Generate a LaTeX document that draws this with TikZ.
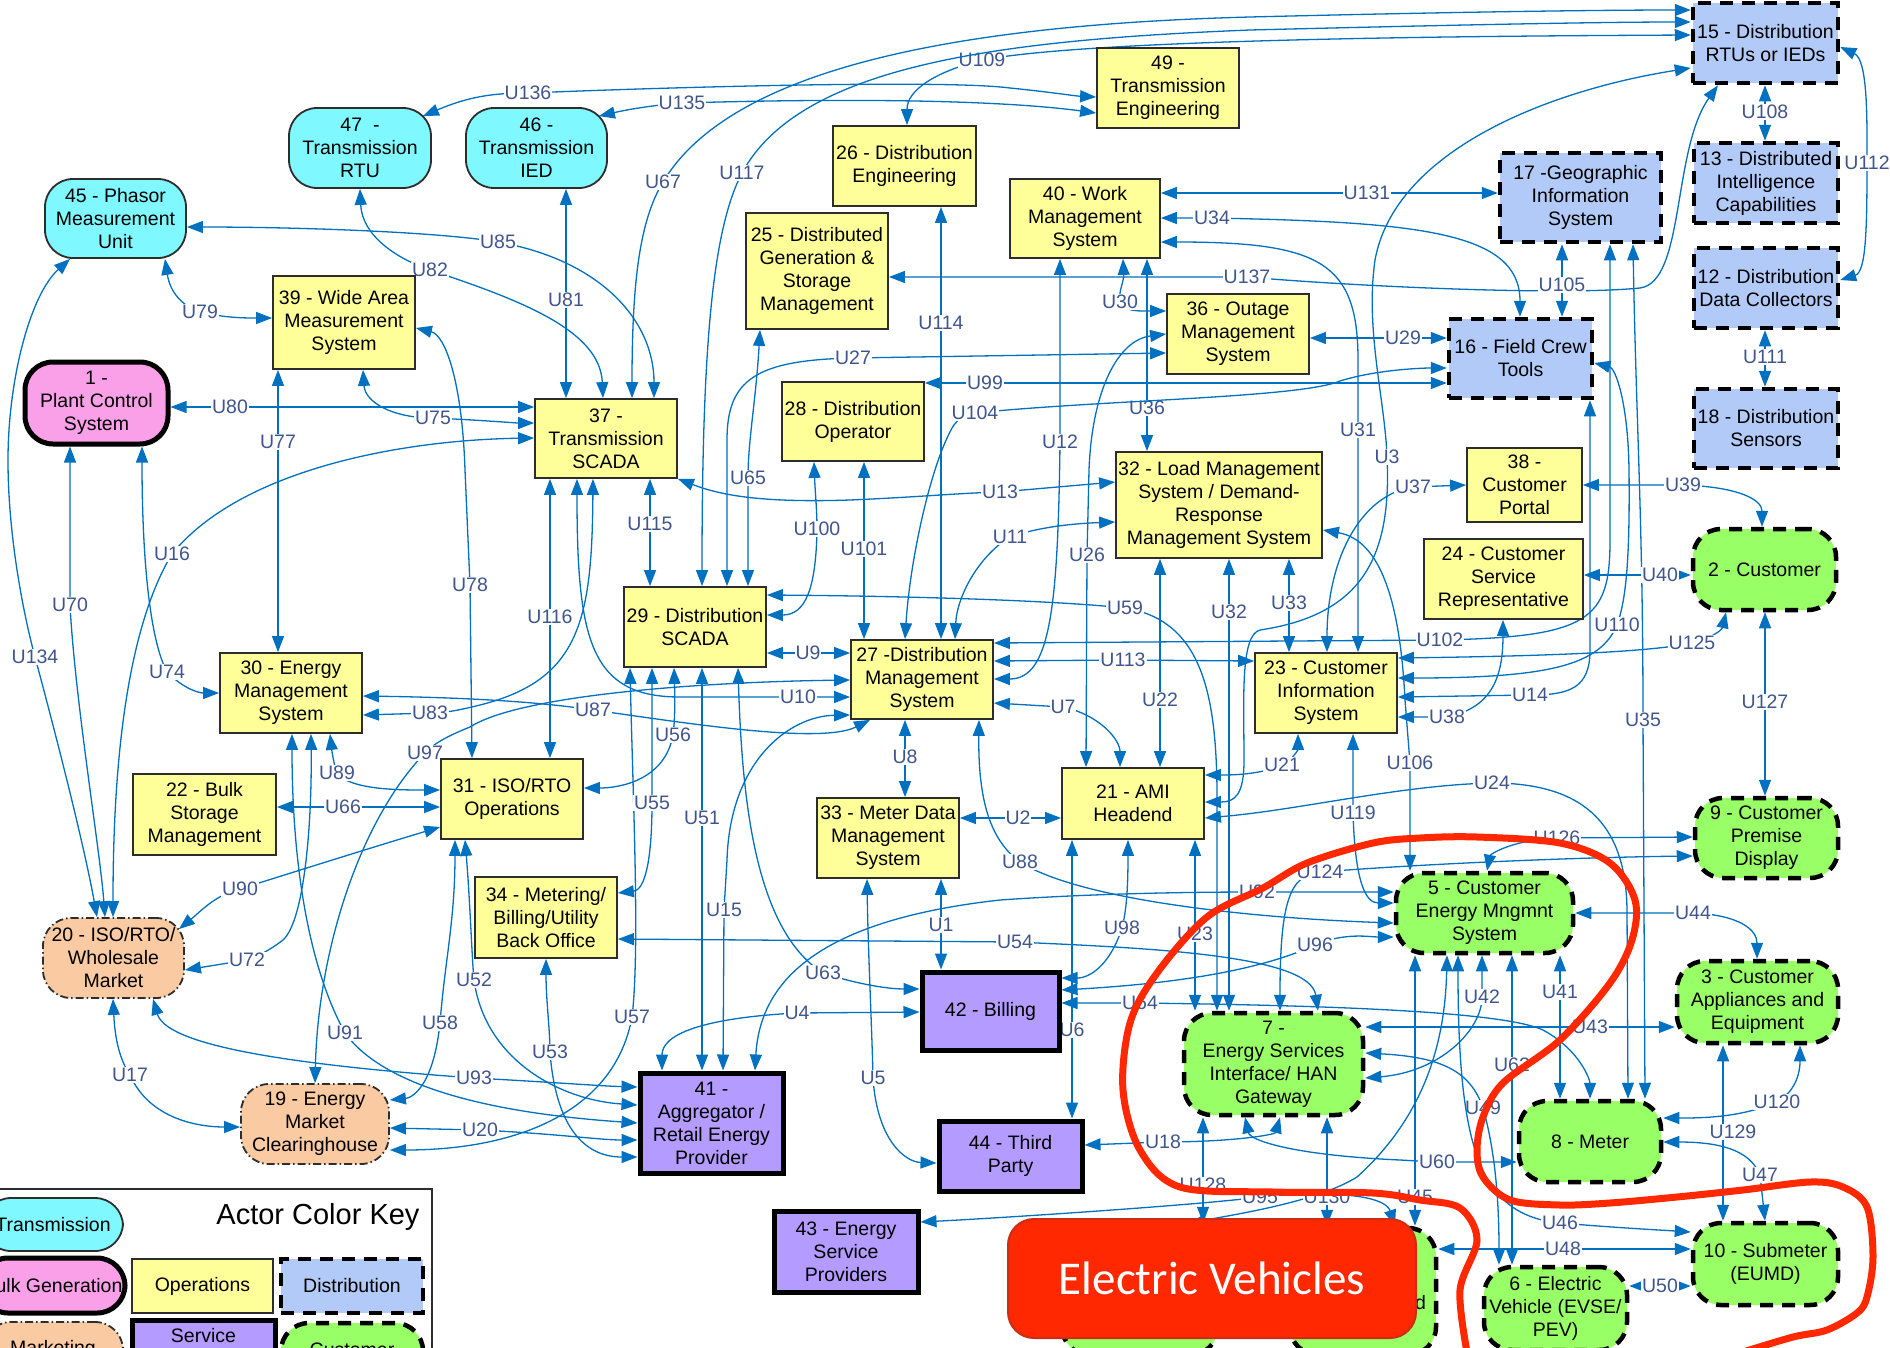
\documentclass[tikz,border=0pt]{standalone}
\usepackage{fontspec}
\setmainfont{Liberation Sans}
\newfontfamily\evfont{Carlito}
\usetikzlibrary{arrows.meta,backgrounds}

\definecolor{edgeblue}{RGB}{0,112,192}
\definecolor{lblblue}{RGB}{63,85,140}
\definecolor{transfill}{RGB}{128,248,255}
\definecolor{opsfill}{RGB}{255,255,153}
\definecolor{distfill}{RGB}{178,202,248}
\definecolor{custfill}{RGB}{153,255,102}
\definecolor{svcfill}{RGB}{180,155,255}
\definecolor{mktfill}{RGB}{250,202,162}
\definecolor{bulkfill}{RGB}{250,160,232}
\definecolor{penred}{RGB}{255,40,0}
\definecolor{penrededge}{RGB}{205,45,20}
\definecolor{boxedge}{RGB}{45,45,45}

\tikzset{
  sz/.style 2 args={minimum width=#1pt, minimum height=#2pt},
  actor/.style={align=center, inner sep=0pt, text=black,
    font=\fontsize{19.5}{23}\selectfont},
  trans/.style={actor, fill=transfill, draw=boxedge, line width=1.8pt, rounded corners=28pt},
  ops/.style={actor, fill=opsfill, draw=boxedge, line width=1.8pt},
  dist/.style={actor, fill=distfill, draw=black, line width=4.5pt, dash pattern=on 13pt off 9pt},
  cust/.style={actor, fill=custfill, draw=black, line width=4.5pt, dash pattern=on 13pt off 9pt, rounded corners=28pt},
  svc/.style={actor, fill=svcfill, draw=black, line width=5pt},
  mkt/.style={actor, fill=mktfill, draw=boxedge, line width=1.8pt,
    dash pattern=on 8pt off 3pt on 1.5pt off 3pt, rounded corners=28pt},
  bulk/.style={actor, fill=bulkfill, draw=black, line width=5pt, rounded corners=28pt},
  wire/.style={draw=edgeblue, line width=1.3pt, >={Triangle[length=16pt,width=12pt]}, <->},
  lbl/.style={fill=white, inner sep=1pt, text=lblblue, font=\fontsize{19.5}{20}\selectfont},
}

\begin{document}
\begin{tikzpicture}[x=1pt,y=-1pt]
\useasboundingbox (0,0) rectangle (1890,1347);

% ---------------- transmission actors
\node[trans, sz={141}{79}] (n45) at (115.5,218.5) {45 - Phasor\\Measurement\\Unit};
\node[trans, sz={142}{80}] (n47) at (360,148) {47\ \ -\\Transmission\\RTU};
\node[trans, sz={141}{80}] (n46) at (536.5,148) {46 -\\Transmission\\IED};

% ---------------- bulk generation / markets
\node[bulk, sz={143}{82}] (n1) at (96.5,403) {1 -\\Plant Control\\System};
\node[mkt, sz={141}{80}] (n20) at (113.5,958) {20 - ISO/RTO/\\Wholesale\\Market};
\node[mkt, sz={148}{80}] (n19) at (315,1124) {19 - Energy\\Market\\Clearinghouse};

% ---------------- operations
\node[ops, sz={142}{80}] (n49) at (1168,88) {49 -\\Transmission\\Engineering};
\node[ops, sz={143}{80}] (n26) at (904.5,166) {26 - Distribution\\Engineering};
\node[ops, sz={142}{116}] (n25) at (817,271) {25 - Distributed\\Generation \&\\Storage\\Management};
\node[ops, sz={150}{79}] (n40) at (1085,218.5) {40 - Work\\Management\\System};
\node[ops, sz={142}{93}] (n39) at (344,322.5) {39 - Wide Area\\Measurement\\System};
\node[ops, sz={142}{79}] (n37) at (606,438.5) {37 -\\Transmission\\SCADA};
\node[ops, sz={142}{79}] (n28) at (853,421.5) {28 - Distribution\\Operator};
\node[ops, sz={142}{80}] (n36) at (1238,334) {36 - Outage\\Management\\System};
\node[ops, sz={206}{106}] (n32) at (1219,505) {32 - Load Management\\System / Demand-\\Response\\Management System};
\node[ops, sz={115}{74}] (n38) at (1524.5,485) {38 -\\Customer\\Portal};
\node[ops, sz={159}{80}] (n24) at (1503.5,579) {24 - Customer\\Service\\Representative};
\node[ops, sz={142}{80}] (n29) at (695,627) {29 - Distribution\\SCADA};
\node[ops, sz={142}{79}] (n27) at (922,679.5) {27 -Distribution\\Management\\System};
\node[ops, sz={142}{80}] (n23) at (1326,693) {23 - Customer\\Information\\System};
\node[ops, sz={142}{80}] (n30) at (291,693) {30 - Energy\\Management\\System};
\node[ops, sz={143}{81}] (n22) at (204.5,814.5) {22 - Bulk\\Storage\\Management};
\node[ops, sz={142}{80}] (n31) at (512,799) {31 - ISO/RTO\\Operations};
\node[ops, sz={142}{80}] (n33) at (888,838) {33 - Meter Data\\Management\\System};
\node[ops, sz={142}{71}] (n21) at (1133,803.5) {21 - AMI\\Headend};
\node[ops, sz={142}{81}] (n34) at (546,917.5) {34 - Metering/\\Billing/Utility\\Back Office};

% ---------------- distribution
\node[dist, sz={145}{80}] (n15) at (1765.5,43) {15 - Distribution\\RTUs or IEDs};
\node[dist, sz={161}{89}] (n17) at (1580.5,197.5) {17 -Geographic\\Information\\System};
\node[dist, sz={144}{80}] (n13) at (1766,183) {13 - Distributed\\Intelligence\\Capabilities};
\node[dist, sz={144}{80}] (n12) at (1766,288) {12 - Distribution\\Data Collectors};
\node[dist, sz={144}{79}] (n18) at (1766,428.5) {18 - Distribution\\Sensors};
\node[dist, sz={143}{79}] (n16) at (1520.5,358.5) {16 - Field Crew\\Tools};

% ---------------- service providers
\node[svc, sz={137}{78}] (n42) at (990.5,1011) {42 - Billing};
\node[svc, sz={143}{100}] (n41) at (711.5,1123) {41 -\\Aggregator /\\Retail Energy\\Provider};
\node[svc, sz={143}{70}] (n44) at (1010.5,1156) {44 - Third\\Party};
\node[svc, sz={144}{81}] (n43) at (846,1251.5) {43 - Energy\\Service\\Providers};

% ---------------- customer
\node[cust, sz={143}{81}] (n2) at (1764.5,569.5) {2 - Customer};
\node[cust, sz={143}{80}] (n9) at (1766.5,838) {9 - Customer\\Premise\\Display};
\node[cust, sz={177}{80}] (n5) at (1484.5,913) {5 - Customer\\Energy Mngmnt\\System};
\node[cust, sz={161}{82}] (n3) at (1757.5,1002) {3 - Customer\\Appliances and\\Equipment};
\node[cust, sz={179}{102}] (n7) at (1273.5,1064) {7 -\\Energy Services\\Interface/ HAN\\Gateway};
\node[cust, sz={142}{81}] (n8) at (1590,1141.5) {8 - Meter};
\node[cust, sz={145}{82}] (n10) at (1765.5,1264) {10 - Submeter\\(EUMD)};
\node[cust, sz={143}{83}] (n6) at (1555.5,1308.5) {6 - Electric\\Vehicle (EVSE/\\PEV)};
\node[cust, sz={156}{130}] (nA) at (1140,1290) {};
\node[cust, sz={146}{127}] (nB) at (1363,1291.5) {};
\node[actor, anchor=west] (nBtxt) at (1415,1303) {d};

% ---------------- colour key
\draw[draw=boxedge, line width=1.5pt] (-3,1189) rectangle (432,1362);
\node[font=\fontsize{29}{32}\selectfont] (keytitle) at (318,1217) {Actor Color Key};
\node[trans, sz={140}{53}] (kTrans) at (53,1224.5) {Transmission};
\node[bulk, sz={145}{55}] (kBulk) at (52.5,1285.5) {Bulk Generation};
\node[ops, sz={141}{54}] (kOps) at (202.5,1286) {Operations};
\node[dist, sz={142}{54}] (kDist) at (352,1286) {Distribution};
\node[mkt, sz={140}{54}] (kMkt) at (53,1349) {Marketing};
\node[svc, sz={143}{54}] (kSvc) at (203.5,1347) {};
\node[actor] (kSvcT) at (203.5,1336) {Service};
\node[cust, sz={142}{54}] (kCust) at (352,1350) {Customer};

% ---------------- interfaces
\begin{pgfonlayer}{background}
\fill[white] (0,0) rectangle (1890,1347);

% top band
\draw[wire] ([xshift=-9pt,yshift=-9pt]n47.north east) .. controls (470,96) and (495,93) .. (528,93) node[lbl](u136){U136} .. controls (700,86) and (950,80) .. (1010,88) .. controls (1050,92) and (1075,96) .. (n49.west |- 0,97);
\draw[wire] ([xshift=-9pt,yshift=-9pt]n46.north east) .. controls (630,109) and (655,105) .. (682,103) node[lbl](u135){U135} .. controls (850,98) and (1000,100) .. (n49.west |- 0,113);
\draw[wire] (n26.north -| 907,0) .. controls (907,90) and (935,72) .. (982,60) node[lbl](u109){U109} .. controls (1100,38) and (1500,36) .. (n15.west |- 0,35);
\draw[wire] (n37.north -| 632,0) .. controls (632,280) and (640,220) .. (663,182) node[lbl](u67){U67} .. controls (730,70) and (950,25) .. (1250,17) .. controls (1450,12) and (1600,10) .. (n15.west |- 0,10);
\draw[wire] (n29.north -| 702,0) .. controls (702,350) and (712,230) .. (742,173) node[lbl](u117){U117} .. controls (800,65) and (1000,40) .. (1250,30) .. controls (1450,25) and (1600,22) .. (n15.west |- 0,22);
\draw[wire] (n15.west |- 0,68) .. controls (1550,90) and (1395,150) .. (1375,260) .. controls (1365,330) and (1385,400) .. (1387,457) node[lbl](u3){U3} .. controls (1392,560) and (1360,615) .. (1260,630) .. controls (1240,635) and (1244,700) .. (1244,760) .. controls (1244,795) and (1235,802) .. (n21.east |- 0,802);
\draw[wire] (n25.east |- 0,277) -- (1247,277) node[lbl](u137){U137} .. controls (1350,286) and (1560,296) .. (1640,288) .. controls (1685,282) and (1672,150) .. (n15.south -| 1718,0);
\draw[wire] (n40.east |- 0,193) -- (1367,193) node[lbl](u131){U131} -- (n17.west |- 0,193);
\draw[wire] (n40.east |- 0,218) -- (1212,218) node[lbl](u34){U34} .. controls (1420,222) and (1520,232) .. (n16.north -| 1520,0);
\draw[wire] (n40.east |- 0,242) .. controls (1320,242) and (1358,262) .. (1358,360) -- (1358,430) node[lbl](u31){U31} -- (n23.north -| 1358,0);
\draw[wire] (n40.south -| 1060,0) -- (1060,442) node[lbl](u12){U12} .. controls (1058,610) and (1050,679) .. (n27.east |- 0,679);
\draw[wire] (n40.south -| 1123,0) .. controls (1124,282) and (1118,292) .. (1120,302) node[lbl](u30){U30} .. controls (1124,312) and (1140,311) .. (n36.west |- 0,311);
\draw[wire] (n40.south -| 1147,0) -- (1147,408) node[lbl](u36){U36} -- (n32.north -| 1147,0);
\draw[wire] (n36.west |- 0,334) .. controls (1118,340) and (1092,390) .. (1089,470) -- (1087,555) node[lbl](u26){U26} -- (n21.north -| 1086,0);
\draw[wire] (n29.north -| 727,0) -- (727,440) .. controls (727,380) and (755,360) .. (853,358) node[lbl](u27){U27} -- (n36.west |- 0,353);
\draw[wire] (n28.east |- 0,383) -- (985,383) node[lbl](u99){U99} -- (n16.west |- 0,383);
\draw[wire] (n27.north -| 905,0) .. controls (910,560) and (930,470) .. (950,432) .. controls (955,420) and (965,414) .. (975,413) node[lbl](u104){U104} .. controls (1100,400) and (1300,398) .. (1340,381) .. controls (1375,370) and (1420,368) .. (n16.west |- 0,368);
\draw[wire] (n36.east |- 0,338) -- (1403,338) node[lbl](u29){U29} -- (n16.west |- 0,338);
\draw[wire] (n26.south -| 941,0) -- (941,323) node[lbl](u114){U114} -- (n27.north -| 941,0);
\draw[wire] (n25.south -| 760,0) .. controls (756,400) and (748,440) .. (748,478) node[lbl](u65){U65} -- (n29.north -| 748,0);
\draw[wire] (n28.south -| 814,0) .. controls (815,490) and (817,510) .. (817,529) node[lbl](u100){U100} .. controls (816,590) and (805,615) .. (n29.east |- 0,615);
\draw[wire] (n28.south -| 864,0) -- (864,549) node[lbl](u101){U101} -- (n27.north -| 864,0);
\draw[wire] (n37.south -| 650,0) -- (650,524) node[lbl](u115){U115} -- (n29.north -| 650,0);
\draw[wire] (n37.south east) .. controls (720,495) and (760,503) .. (850,500) .. controls (920,497) and (960,493) .. (1000,492) node[lbl](u13){U13} -- (n32.west |- 0,482);
\draw[wire] (n32.west |- 0,522) .. controls (1060,524) and (1030,530) .. (1010,537) node[lbl](u11){U11} .. controls (980,555) and (957,595) .. (n27.north -| 955,0);
\draw[wire] (n29.east |- 0,595) .. controls (900,596) and (1050,600) .. (1125,608) node[lbl](u59){U59} .. controls (1200,620) and (1216,690) .. (1217,790) -- (n7.north -| 1217,0);
\draw[wire] (n27.east |- 0,661) -- (1123,660) node[lbl](u113){U113} -- (n23.west |- 0,661);
\draw[wire] (n27.east |- 0,643) -- (1440,640) node[lbl](u102){U102} .. controls (1590,637) and (1610,620) .. (1610,540) -- (n17.south -| 1610,0);
\draw[wire] (n16.east |- 0,363) .. controls (1615,368) and (1628,400) .. (1629,470) .. controls (1630,560) and (1626,600) .. (1617,625) node[lbl](u110){U110} .. controls (1600,665) and (1550,678) .. (n23.east |- 0,678);
\draw[wire] (n17.south -| 1633,0) .. controls (1636,420) and (1643,520) .. (1643,720) node[lbl](u35){U35} -- (n8.north -| 1645,0);
\draw[wire] (n16.south -| 1590,0) -- (1590,650) .. controls (1590,688) and (1570,695) .. (1530,695) node[lbl](u14){U14} -- (n23.east |- 0,697);
\draw[wire] (n23.east |- 0,658) .. controls (1550,656) and (1650,652) .. (1692,643) node[lbl](u125){U125} .. controls (1710,639) and (1722,630) .. (n2.south -| 1726,0);
\draw[wire] (n23.east |- 0,717) -- (1447,717) node[lbl](u38){U38} .. controls (1490,708) and (1503,680) .. (n24.south -| 1503,0);
\draw[wire] (n23.north -| 1327,0) .. controls (1327,560) and (1360,495) .. (1413,487) node[lbl](u37){U37} -- (n38.west |- 0,485);
\draw[wire] (n38.east |- 0,485) -- (1683,485) node[lbl](u39){U39} .. controls (1740,487) and (1762,500) .. (n2.north -| 1762,0);
\draw[wire] (n24.east |- 0,575) -- (1660,575) node[lbl](u40){U40} -- (n2.west |- 0,575);
\draw[wire] (n2.south -| 1765,0) -- (1765,702) node[lbl](u127){U127} -- (n9.north -| 1765,0);
\draw[wire] (n15.south -| 1765,0) -- (1765,112) node[lbl](u108){U108} -- (n13.north -| 1765,0);
\draw[wire] (n12.south -| 1765,0) -- (1765,357) node[lbl](u111){U111} -- (n18.north -| 1765,0);
\draw[wire] (n15.east |- 0,47) .. controls (1868,60) and (1867,120) .. (1867,163) node[lbl](u112){U112} .. controls (1867,230) and (1866,272) .. (n12.east |- 0,280);
\draw[wire] (n17.south -| 1562,0) -- (1562,285) node[lbl](u105){U105} -- (n16.north -| 1562,0);

% transmission and bulk side
\draw[wire] (n47.south -| 360,0) .. controls (362,235) and (395,258) .. (430,270) node[lbl](u82){U82} .. controls (520,300) and (600,330) .. (n37.north -| 603,0);
\draw[wire] (n45.east |- 0,227) .. controls (300,227) and (440,232) .. (498,242) node[lbl](u85){U85} .. controls (600,260) and (654,320) .. (n37.north -| 654,0);
\draw[wire] (n46.south -| 566,0) -- (566,300) node[lbl](u81){U81} -- (n37.north -| 566,0);
\draw[wire] (n45.south -| 165,0) .. controls (170,292) and (182,306) .. (200,312) node[lbl](u79){U79} .. controls (225,318) and (245,318) .. (n39.west |- 0,318);
\draw[wire] (n1.east |- 0,407) -- (230,407) node[lbl](u80){U80} -- (n37.west |- 0,407);
\draw[wire] (n39.south -| 363,0) .. controls (365,402) and (392,418) .. (433,418) node[lbl](u75){U75} .. controls (480,420) and (515,423) .. (n37.west |- 0,423);
\draw[wire] (n39.south -| 278,0) -- (278,442) node[lbl](u77){U77} -- (n30.north -| 278,0);
\draw[wire] (n39.east |- 0,328) .. controls (445,335) and (462,380) .. (465,470) -- (470,585) node[lbl](u78){U78} -- (n31.north -| 472,0);
\draw[wire] (n45.south -| 70,0) .. controls (30,295) and (8,380) .. (8,460) .. controls (8,540) and (25,620) .. (35,657) node[lbl](u134){U134} .. controls (60,750) and (85,850) .. (n20.north -| 97,0);
\draw[wire] (n1.south -| 70,0) -- (70,605) node[lbl](u70){U70} .. controls (75,700) and (100,850) .. (n20.north -| 105,0);
\draw[wire] (n1.south -| 142,0) .. controls (142,560) and (150,640) .. (167,672) node[lbl](u74){U74} .. controls (185,690) and (200,693) .. (n30.west |- 0,693);
\draw[wire] (n37.west |- 0,438) .. controls (400,440) and (240,470) .. (172,554) node[lbl](u16){U16} .. controls (120,640) and (113,800) .. (n20.north -| 113,0);
\draw[wire] (n37.south -| 593,0) .. controls (592,620) and (580,680) .. (480,705) .. controls (460,710) and (445,713) .. (430,713) node[lbl](u83){U83} -- (n30.east |- 0,715);
\draw[wire] (n37.south -| 577,0) .. controls (577,640) and (590,697) .. (680,697) -- (798,697) node[lbl](u10){U10} -- (n27.west |- 0,697);
\draw[wire] (n37.south -| 550,0) -- (550,617) node[lbl](u116){U116} -- (n31.north -| 550,0);
\draw[wire] (n30.east |- 0,696) .. controls (500,698) and (560,705) .. (593,710) node[lbl](u87){U87} .. controls (680,722) and (820,745) .. (n27.south -| 870,0);
\draw[wire] (n27.west |- 0,680) .. controls (700,682) and (520,695) .. (470,727) .. controls (445,737) and (432,745) .. (425,753) node[lbl](u97){U97} .. controls (360,820) and (318,950) .. (n19.north -| 315,0);
\draw[wire] (n30.south -| 330,0) .. controls (332,752) and (334,765) .. (337,773) node[lbl](u89){U89} .. controls (350,790) and (400,790) .. (n31.west |- 0,790);
\draw[wire] (n22.east |- 0,807) -- (343,807) node[lbl](u66){U66} -- (n31.west |- 0,807);
\draw[wire] ([xshift=-6pt,yshift=-12pt]n20.north east) .. controls (200,912) and (215,895) .. (240,889) node[lbl](u90){U90} .. controls (300,870) and (380,845) .. (n31.west |- 0,827);
\draw[wire] (n30.south -| 311,0) .. controls (312,820) and (305,920) .. (283,940) .. controls (270,950) and (255,958) .. (247,960) node[lbl](u72){U72} -- (n20.east |- 0,970);
\draw[wire] (n30.south -| 292,0) .. controls (292,850) and (305,960) .. (345,1033) node[lbl](u91){U91} .. controls (390,1095) and (520,1115) .. (n41.west |- 0,1123);
\draw[wire] (n31.south -| 455,0) .. controls (455,920) and (445,960) .. (440,1023) node[lbl](u58){U58} .. controls (433,1090) and (410,1098) .. (n19.east |- 0,1100);
\draw[wire] (n31.south -| 465,0) .. controls (470,900) and (472,960) .. (474,980) node[lbl](u52){U52} .. controls (485,1060) and (560,1100) .. (n41.west |- 0,1105);
\draw[wire] (n20.south -| 153,0) .. controls (165,1040) and (250,1062) .. (474,1078) node[lbl](u93){U93} .. controls (550,1082) and (600,1086) .. (n41.west |- 0,1087);
\draw[wire] (n20.south -| 113,0) .. controls (115,1040) and (120,1060) .. (130,1075) node[lbl](u17){U17} .. controls (150,1120) and (200,1127) .. (n19.west |- 0,1127);
\draw[wire] (n19.east |- 0,1128) -- (480,1130) node[lbl](u20){U20} .. controls (560,1134) and (600,1140) .. (n41.west |- 0,1140);
\draw[wire] (n29.south -| 630,0) .. controls (633,800) and (640,950) .. (632,1017) node[lbl](u57){U57} .. controls (615,1110) and (520,1150) .. (n19.east |- 0,1150);
\draw[wire] (n29.south -| 652,0) -- (652,803) node[lbl](u55){U55} .. controls (652,860) and (645,890) .. (n34.east |- 0,893);
\draw[wire] (n29.south -| 674,0) .. controls (675,700) and (675,720) .. (673,735) node[lbl](u56){U56} .. controls (665,780) and (620,788) .. (n31.east |- 0,788);
\draw[wire] (n29.south -| 702,0) -- (702,818) node[lbl](u51){U51} -- (n41.north -| 702,0);
\draw[wire] (n29.south -| 738,0) .. controls (742,800) and (755,930) .. (823,973) node[lbl](u63){U63} .. controls (860,985) and (890,989) .. (n42.west |- 0,989);
\draw[wire] (n27.west |- 0,715) .. controls (790,716) and (730,760) .. (727,860) -- (724,910) node[lbl](u15){U15} -- (n41.north -| 723,0);
\draw[wire] (n42.west |- 0,1012) -- (797,1013) node[lbl](u4){U4} .. controls (700,1018) and (662,1035) .. (n41.north -| 662,0);
\draw[wire] (n41.north -| 755,0) .. controls (760,980) and (820,920) .. (1000,900) .. controls (1100,893) and (1200,892) .. (1257,892) node[lbl](u92){U92} -- (n5.west |- 0,892);
\draw[wire] (n34.south -| 546,0) .. controls (546,1000) and (550,1030) .. (550,1052) node[lbl](u53){U53} .. controls (555,1120) and (580,1157) .. (n41.west |- 0,1157);

% distribution management and metering
\draw[wire] (n33.south -| 941,0) -- (941,925) node[lbl](u1){U1} -- (n42.north -| 941,0);
\draw[wire] (n33.south -| 867,0) .. controls (868,950) and (872,1030) .. (873,1078) node[lbl](u5){U5} .. controls (877,1140) and (905,1162) .. (n44.west |- 0,1163);
\draw[wire] (n27.south -| 905,0) -- (905,757) node[lbl](u8){U8} -- (n33.north -| 905,0);
\draw[wire] (n29.east |- 0,653) -- (808,653) node[lbl](u9){U9} -- (n27.west |- 0,653);
\draw[wire] (n27.east |- 0,703) -- (1063,707) node[lbl](u7){U7} .. controls (1100,715) and (1120,740) .. (n21.north -| 1120,0);
\draw[wire] (n32.south -| 1160,0) -- (1160,700) node[lbl](u22){U22} -- (n21.north -| 1160,0);
\draw[wire] (n32.south -| 1229,0) -- (1229,612) node[lbl](u32){U32} -- (n7.north -| 1229,0);
\draw[wire] (n32.south -| 1289,0) -- (1289,603) node[lbl](u33){U33} -- (n23.north -| 1289,0);
\draw[wire] (n23.south -| 1298,0) .. controls (1298,750) and (1292,760) .. (1282,765) node[lbl](u21){U21} .. controls (1260,775) and (1230,775) .. (n21.east |- 0,775);
\draw[wire] (n23.south -| 1353,0) -- (1353,813) node[lbl](u119){U119} .. controls (1355,880) and (1365,903) .. (n5.west |- 0,903);
\draw[wire] (n32.east |- 0,530) .. controls (1380,540) and (1400,600) .. (1405,700) -- (1410,763) node[lbl](u106){U106} -- (n5.north -| 1410,0);
\draw[wire] (n21.east |- 0,818) .. controls (1300,810) and (1400,785) .. (1492,783) node[lbl](u24){U24} .. controls (1590,783) and (1626,830) .. (1627,910) -- (n8.north -| 1628,0);
\draw[wire] (n33.east |- 0,818) -- (1018,818) node[lbl](u2){U2} -- (n21.west |- 0,818);
\draw[wire] (n21.south -| 1072,0) -- (1072,1030) node[lbl](u6){U6} -- (n44.north -| 1072,0);
\draw[wire] (n21.south -| 1128,0) .. controls (1128,900) and (1125,915) .. (1122,928) node[lbl](u98){U98} .. controls (1110,965) and (1090,978) .. (n42.east |- 0,978);
\draw[wire] (n21.south -| 1195,0) -- (1195,934) node[lbl](u23){U23} -- (n7.north -| 1195,0);
\draw[wire] (n27.south -| 979,0) .. controls (978,800) and (990,840) .. (1020,862) node[lbl](u88){U88} .. controls (1080,900) and (1250,918) .. (n5.west |- 0,923);
\draw[wire] (n34.east |- 0,939) -- (1015,942) node[lbl](u54){U54} .. controls (1150,948) and (1310,955) .. (n7.north -| 1318,0);
\draw[wire] (n5.west |- 0,937) .. controls (1370,937) and (1345,932) .. (1315,945) node[lbl](u96){U96} .. controls (1250,975) and (1150,985) .. (n42.east |- 0,990);
\draw[wire] (n42.east |- 0,1003) -- (1140,1003) node[lbl](u64){U64} .. controls (1300,1005) and (1500,1010) .. (1543,1030) .. controls (1580,1050) and (1590,1080) .. (n8.north -| 1590,0);

% customer premises
\draw[wire] (n7.north -| 1280,0) .. controls (1280,900) and (1290,875) .. (1320,872) node[lbl](u124){U124} .. controls (1450,862) and (1600,857) .. (n9.west |- 0,856);
\draw[wire] (n5.north -| 1487,0) .. controls (1490,855) and (1510,840) .. (1557,838) node[lbl](u126){U126} -- (n9.west |- 0,837);
\draw[wire] (n5.east |- 0,913) -- (1693,913) node[lbl](u44){U44} .. controls (1740,915) and (1757,930) .. (n3.north -| 1757,0);
\draw[wire] (n5.south -| 1560,0) -- (1560,992) node[lbl](u41){U41} -- (n8.north -| 1560,0);
\draw[wire] (n7.east |- 0,1027) -- (1590,1027) node[lbl](u43){U43} -- (n3.west |- 0,1027);
\draw[wire] (n7.east |- 0,1053) .. controls (1440,1057) and (1470,1070) .. (1483,1108) node[lbl](u49){U49} .. controls (1495,1150) and (1499,1200) .. (n6.north -| 1499,0);
\draw[wire] (n7.east |- 0,1078) .. controls (1440,1072) and (1482,1030) .. (1482,997) node[lbl](u42){U42} -- (n5.south -| 1482,0);
\draw[wire] (n5.south -| 1458,0) .. controls (1458,1150) and (1480,1215) .. (1560,1223) node[lbl](u46){U46} .. controls (1620,1228) and (1660,1230) .. (n10.west |- 0,1232);
\draw[wire] (n5.south -| 1512,0) -- (1512,1065) node[lbl](u62){U62} -- (n6.north -| 1512,0);
\draw[wire] (n5.south -| 1447,0) .. controls (1445,1050) and (1420,1120) .. (1357,1177) .. controls (1320,1200) and (1250,1212) .. (nA.north -| 1190,0);
\draw[wire] (n5.south -| 1415,0) -- (1415,1197) node[lbl](u45){U45} -- (nB.north -| 1415,0);
\draw[wire] (n7.south -| 1280,0) .. controls (1275,1135) and (1230,1142) .. (1163,1142) node[lbl](u18){U18} -- (n44.east |- 0,1145);
\draw[wire] (n7.south -| 1245,0) .. controls (1250,1140) and (1290,1155) .. (1400,1160) -- (1437,1162) node[lbl](u60){U60} -- (n8.west |- 0,1162);
\draw[wire] (n7.south -| 1203,0) -- (1203,1185) node[lbl](u128){U128} -- (nA.north -| 1203,0);
\draw[wire] (n7.south -| 1327,0) -- (1327,1197) node[lbl](u130){U130} -- (nB.north -| 1327,0);
\draw[wire] (n43.east |- 0,1222) .. controls (1000,1218) and (1200,1205) .. (1260,1197) node[lbl](u95){U95} .. controls (1330,1190) and (1385,1195) .. (nB.north -| 1395,0);
\draw[wire] (nB.east |- 0,1249) -- (1563,1249) node[lbl](u48){U48} -- (n10.west |- 0,1249);
\draw[wire] (n6.east |- 0,1286) -- (1660,1286) node[lbl](u50){U50} -- (n10.west |- 0,1286);
\draw[wire] (n3.south -| 1723,0) -- (1723,1132) node[lbl,xshift=10pt](u129){U129} -- (n10.north -| 1723,0);
\draw[wire] (n3.south -| 1800,0) .. controls (1800,1080) and (1790,1095) .. (1777,1102) node[lbl](u120){U120} .. controls (1740,1118) and (1700,1118) .. (n8.east |- 0,1118);
\draw[wire] (n8.east |- 0,1142) .. controls (1720,1142) and (1750,1150) .. (1760,1175) node[lbl](u47){U47} -- (n10.north -| 1765,0);
\end{pgfonlayer}

% ---------------- hand-drawn highlight and caption
\draw[draw=penred, line width=7pt, line cap=round, line join=round]
  plot[smooth, tension=0.55] coordinates {(1467,1352) (1460,1290) (1477,1240) (1460,1208) (1420,1200) (1373,1193) (1273,1192) (1180,1187) (1140,1150) (1123,1090) (1130,1023) (1157,973) (1207,917) (1263,888) (1307,863) (1373,843) (1420,838) (1477,837) (1560,843) (1610,863) (1635,900) (1632,940) (1610,983) (1560,1040) (1503,1083) (1483,1117) (1477,1150) (1483,1177) (1510,1200) (1560,1205) (1610,1203) (1677,1197) (1743,1190) (1810,1182) (1843,1187) (1867,1207) (1873,1257) (1867,1297) (1857,1313) (1827,1330) (1793,1337) (1743,1352)};
\node[fill=penred, draw=penrededge, line width=2pt, rounded corners=26pt, minimum width=408pt, minimum height=119pt, inner sep=0pt, text=white, font=\evfont\fontsize{47}{50}\selectfont] (evbox) at (1212,1278.5) {Electric Vehicles};
\end{tikzpicture}
\end{document}
